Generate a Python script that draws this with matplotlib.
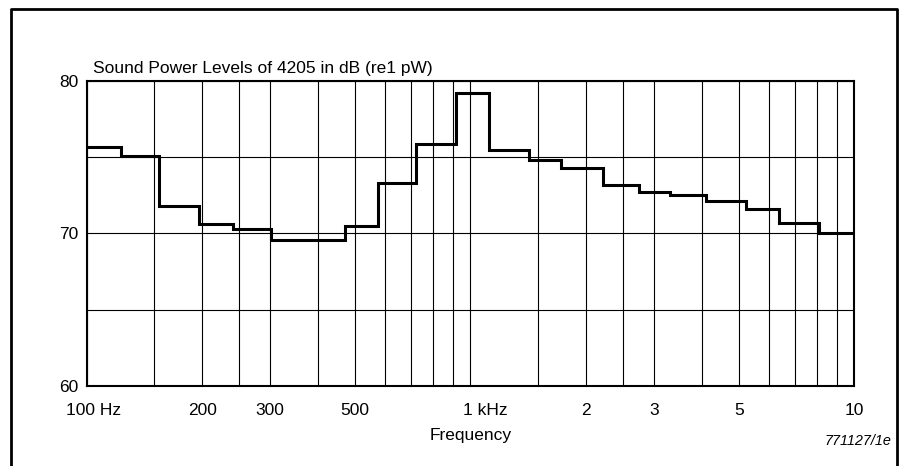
import matplotlib.pyplot as plt
from matplotlib.lines import Line2D
from matplotlib.transforms import ScaledTranslation

# band edges (Hz) and the level in each band (dB re 1 pW)
band_edges_hz = [
    100, 123, 154, 196, 241, 302, 471, 574, 720, 919, 1117,
    1418, 1724, 2212, 2740, 3312, 4111, 5224, 6377, 8103, 10000,
]
levels_db = [
    75.7, 75.1, 71.8, 70.6, 70.3, 69.6, 70.5, 73.3, 75.9, 79.2,
    75.5, 74.8, 74.3, 73.2, 72.7, 72.5, 72.1, 71.6, 70.7, 70.0,
]

x_tick_values = [100, 200, 300, 500, 1000, 2000, 3000, 5000, 10000]
x_tick_labels = ["100 Hz", "200", "300", "500", "1 kHz", "2", "3", "5", "10"]
x_grid_values = [
    150, 200, 250, 300, 400, 500, 600, 700, 800, 900, 1000,
    1500, 2000, 2500, 3000, 4000, 5000, 6000, 7000, 8000, 9000,
]
y_tick_values = [60, 70, 80]
y_grid_values = [65, 75]


def plot_sound_power(file_name: str = "out.png") -> None:
    """Third-octave sound power spectrum drawn as steps."""
    plt.rcParams["font.family"] = ["Liberation Sans", "DejaVu Sans"]
    fs = 12.5

    fig = plt.figure(figsize=(9.04, 4.66), dpi=100)
    ax = fig.add_axes([0.0957, 0.1717, 0.8495, 0.6545])

    ax.stairs(levels_db, band_edges_hz, baseline=None, color="black", linewidth=2.2)

    ax.set_xscale("log")
    ax.set_xlim(100, 10000)
    ax.set_ylim(60, 80)

    ax.set_xticks(x_tick_values)
    ax.set_xticklabels(x_tick_labels, fontsize=fs)
    ax.set_xticks(x_grid_values, minor=True)
    ax.set_xticklabels([], minor=True)
    ax.set_yticks(y_tick_values)
    ax.set_yticklabels([str(v) for v in y_tick_values], fontsize=fs)
    ax.set_yticks(y_grid_values, minor=True)

    ax.tick_params(axis="both", which="both", length=0)
    ax.tick_params(axis="x", which="major", pad=12)
    ax.tick_params(axis="y", which="major", pad=6)
    ax.grid(visible=True, which="both", color="black", linewidth=0.8)
    ax.set_axisbelow(True)
    for spine in ax.spines.values():
        spine.set_linewidth(1.5)

    # "100 Hz" and "1 kHz" sit a little right of their ticks
    shifts = {"100 Hz": 7.5, "1 kHz": 15}
    for label in ax.get_xticklabels():
        dx = shifts.get(label.get_text())
        if dx:
            label.set_transform(
                label.get_transform() + ScaledTranslation(dx / 100, 0, fig.dpi_scale_trans),
            )

    ax.set_xlabel("Frequency", fontsize=fs)
    ax.xaxis.label.set_va("center")
    ax.xaxis.set_label_coords(0.5, -0.1607)

    W, H = 904, 466
    fig.text(93 / W, 1 - 68 / H, "Sound Power Levels of 4205 in dB (re1 pW)",
             fontsize=fs, ha="left", va="center")
    fig.text(891 / W, 1 - 441 / H, "771127/1e", fontsize=10.4, style="italic",
             ha="right", va="center")

    # open frame round the figure (no bottom edge)
    fx = [10.5 / W, 10.5 / W, 897 / W, 897 / W]
    fy = [0, 1 - 9 / H, 1 - 9 / H, 0]
    fig.add_artist(Line2D(fx, fy, transform=fig.transFigure, color="black", linewidth=2))

    fig.savefig(file_name, dpi=100)


if __name__ == "__main__":
    plot_sound_power()
